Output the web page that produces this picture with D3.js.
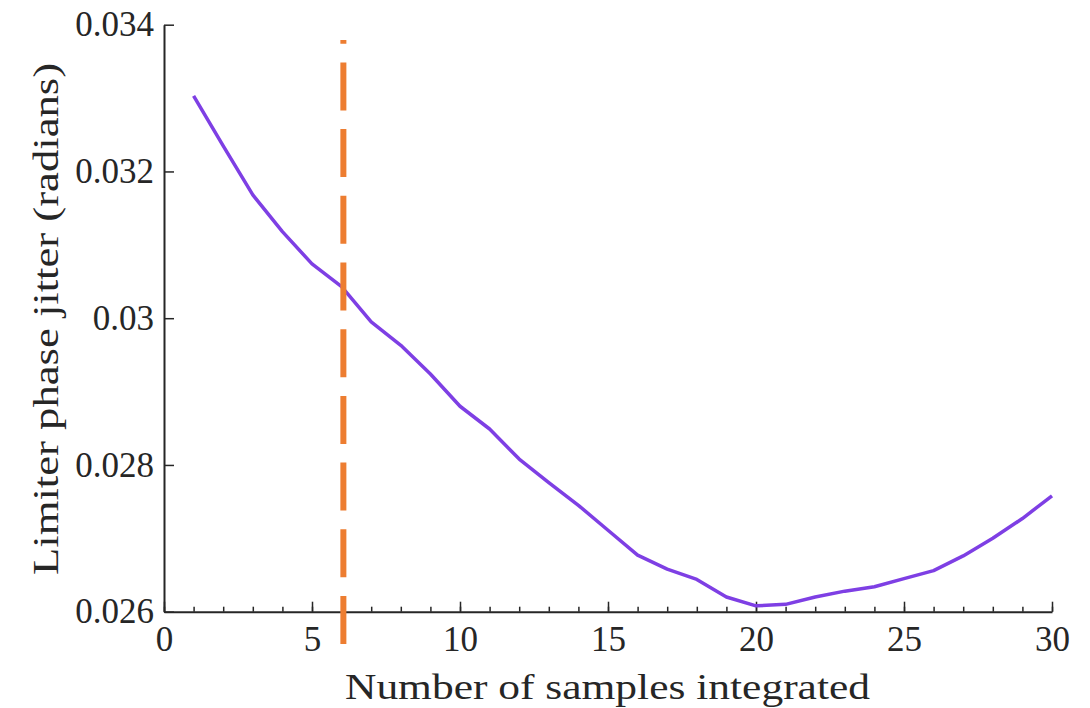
<!DOCTYPE html>
<html>
<head>
<meta charset="utf-8">
<script src="https://cdn.jsdelivr.net/npm/d3@7"></script>
<style>
  body { margin: 0; background: #fff; }
  text { font-family: "Liberation Serif", "Times New Roman", serif; fill: #262626; }
</style>
</head>
<body>
<svg id="chart" width="1090" height="708"></svg>
<script>

var samples = d3.range(1, 31);
var jitter = [0.03303, 0.03235, 0.03168, 0.03118, 0.03074, 0.03043, 0.02995, 0.02963, 0.02924, 0.02880,
              0.02849, 0.02808, 0.02776, 0.02745, 0.02711, 0.02677, 0.02658, 0.02644, 0.02620, 0.02608,
              0.02610, 0.02620, 0.02628, 0.02634, 0.02645, 0.02656, 0.02676, 0.02700, 0.02727, 0.02758];

var xTicks = [0, 5, 10, 15, 20, 25, 30];
var yTicks = [0.026, 0.028, 0.030, 0.032, 0.034];
var yTickLabels = ["0.026", "0.028", "0.03", "0.032", "0.034"];

// chosen integration length, drawn as dashed marker
var markerX = 6.06;
var markerRange = [0.02556, 0.03379];

var svg = d3.select("#chart");
var mLeft = 164, mRight = 1052, mTop = 24.7, mBottom = 611.7;

var x = d3.scaleLinear().domain([0, 30]).range([mLeft, mRight]);
var y = d3.scaleLinear().domain([0.026, 0.034]).range([mBottom, mTop]);

var ax = "#262626";

// minor x ticks
svg.append("g")
    .attr("transform", "translate(0," + mBottom + ")")
    .call(d3.axisBottom(x).tickValues(d3.range(0, 31)).tickSize(-5).tickSizeOuter(0).tickFormat(""))
    .call(g => g.select(".domain").remove())
    .call(g => g.selectAll("line").attr("stroke", ax).attr("stroke-width", 1.5));

var xAxis = svg.append("g")
    .attr("transform", "translate(0," + mBottom + ")")
    .call(d3.axisBottom(x).tickValues(xTicks).tickSize(-10).tickSizeOuter(0).tickPadding(14).tickFormat(d3.format("d")));

var yAxis = svg.append("g")
    .attr("transform", "translate(" + mLeft + ",0)")
    .call(d3.axisLeft(y).tickValues(yTicks).tickSize(-10).tickSizeOuter(0).tickPadding(10)
        .tickFormat((d, i) => yTickLabels[i]));

[xAxis, yAxis].forEach(function(g){
    g.select(".domain").attr("stroke", ax).attr("stroke-width", 2);
    g.selectAll(".tick line").attr("stroke", ax).attr("stroke-width", 1.5);
    g.selectAll(".tick text")
        .attr("font-family", "Liberation Serif, serif")
        .attr("font-size", 35)
        .attr("fill", ax);
});

// data line
var line = d3.line()
    .x((d, i) => x(samples[i]))
    .y(d => y(d));

svg.append("path")
    .datum(jitter)
    .attr("d", line)
    .attr("fill", "none")
    .attr("stroke", "#7E3FE4")
    .attr("stroke-width", 3.5)
    .attr("stroke-linejoin", "round");

// dashed marker, drawn from the bottom upwards
svg.append("path")
    .datum(markerRange)
    .attr("d", d => "M" + x(markerX) + "," + y(d[0]) + "V" + y(d[1]))
    .attr("stroke", "#ED7D31")
    .attr("stroke-width", 6)
    .attr("stroke-dasharray", "48,18.7")
    .attr("fill", "none");

// axis labels
svg.append("text")
    .attr("x", (345 + 870) / 2)
    .attr("y", 699)
    .attr("text-anchor", "middle")
    .attr("font-size", 36)
    .attr("textLength", 525)
    .attr("lengthAdjust", "spacingAndGlyphs")
    .text("Number of samples integrated");

svg.append("text")
    .attr("transform", "translate(58," + (63 + 575) / 2 + ") rotate(-90)")
    .attr("text-anchor", "middle")
    .attr("font-size", 36)
    .attr("textLength", 512)
    .attr("lengthAdjust", "spacingAndGlyphs")
    .text("Limiter phase jitter (radians)");

</script>
</body>
</html>
